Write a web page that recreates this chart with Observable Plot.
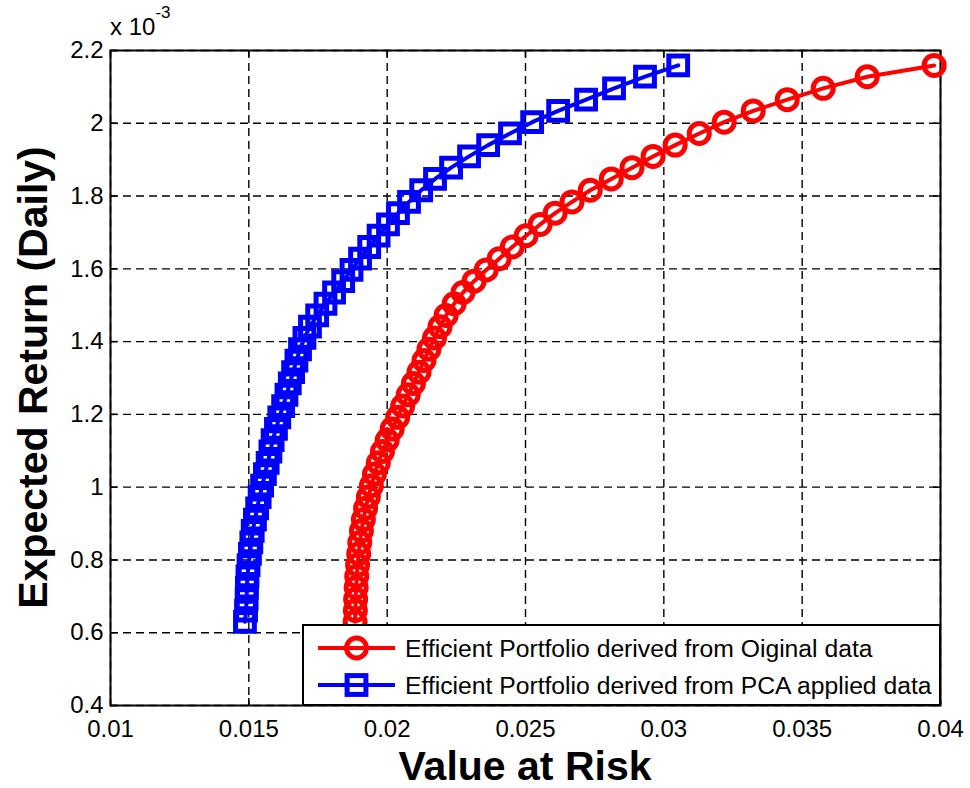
<!DOCTYPE html>
<html><head><meta charset="utf-8">
<script src="https://cdn.jsdelivr.net/npm/d3@7"></script>
<script src="https://cdn.jsdelivr.net/npm/@observablehq/plot@0.6"></script>
<style>body{margin:0;background:#fff}</style>
</head><body><div id="chart"></div>
<script>
// Tick values
const xTicks = [0.01, 0.015, 0.02, 0.025, 0.03, 0.035, 0.04];
const yTicks = [0.4, 0.6, 0.8, 1, 1.2, 1.4, 1.6, 1.8, 2, 2.2];

// Expected return (daily), in units of 1e-3
const returns = [0.630, 0.661, 0.692, 0.724, 0.755, 0.786, 0.817, 0.848, 0.880, 0.911,
  0.942, 0.973, 1.004, 1.036, 1.067, 1.098, 1.129, 1.160, 1.192, 1.223,
  1.254, 1.285, 1.316, 1.348, 1.379, 1.410, 1.441, 1.472, 1.504, 1.535,
  1.566, 1.597, 1.628, 1.660, 1.691, 1.722, 1.753, 1.784, 1.816, 1.847,
  1.878, 1.909, 1.940, 1.972, 2.003, 2.034, 2.065, 2.096, 2.128, 2.159];

// Value at Risk: original data
const varOriginal = [0.01884, 0.01885, 0.01886, 0.01888, 0.01890, 0.01893, 0.01897, 0.01901, 0.01907, 0.01914,
  0.01922, 0.01932, 0.01943, 0.01954, 0.01968, 0.01983, 0.02000, 0.02018, 0.02038, 0.02056,
  0.02076, 0.02095, 0.02115, 0.02133, 0.02151, 0.02171, 0.02191, 0.02213, 0.02242, 0.02274,
  0.02314, 0.02358, 0.02405, 0.02452, 0.02502, 0.02553, 0.02607, 0.02668, 0.02734, 0.02810,
  0.02885, 0.02961, 0.03041, 0.03128, 0.03218, 0.03323, 0.03446, 0.03576, 0.03735, 0.03977];

// Value at Risk: PCA applied data
const varPCA = [0.01486, 0.01490, 0.01492, 0.01493, 0.01495, 0.01499, 0.01504, 0.01509, 0.01514, 0.01522,
  0.01530, 0.01539, 0.01548, 0.01558, 0.01568, 0.01578, 0.01586, 0.01598, 0.01610, 0.01624,
  0.01636, 0.01648, 0.01660, 0.01672, 0.01685, 0.01701, 0.01721, 0.01747, 0.01777, 0.01808,
  0.01841, 0.01871, 0.01902, 0.01935, 0.01969, 0.02003, 0.02039, 0.02079, 0.02123, 0.02173,
  0.02231, 0.02296, 0.02365, 0.02444, 0.02524, 0.02618, 0.02719, 0.02820, 0.02932, 0.03052];

const seriesNames = ["Efficient Portfolio derived from Oiginal data", "Efficient Portfolio derived from PCA applied data"];
const xTitle = "Value at Risk";
const yTitle = "Expected Return (Daily)";

const rowsOrig = returns.map((r, i) => ({risk: varOriginal[i], ret: r}));
const rowsPCA = returns.map((r, i) => ({risk: varPCA[i], ret: r}));

const W = 970, H = 788, mL = 110, mR = 30, mT = 50, mB = 83;
const plotW = W - mL - mR, plotH = H - mT - mB;
const font = "'Liberation Sans', Arial, Helvetica, sans-serif";
const RED = "#ff0000", BLUE = "#0000ff";
const gridStyle = {stroke: "black", strokeOpacity: 1, strokeWidth: 1.4, strokeDasharray: "8,5"};
const tickStyle = {stroke: "black", strokeOpacity: 1, strokeWidth: 1.5};

const chart = Plot.plot({
  width: W, height: H,
  marginLeft: mL, marginRight: mR, marginTop: mT, marginBottom: mB,
  style: {fontFamily: font, fontSize: "24px", color: "black", background: "white", overflow: "visible"},
  x: {domain: [0.01, 0.04], label: null},
  y: {domain: [0.4, 2.2], label: null},
  marks: [
    Plot.gridX(xTicks, gridStyle),
    Plot.gridY(yTicks, gridStyle),
    Plot.ruleX(xTicks, {...tickStyle, insetTop: plotH - 7}),
    Plot.ruleX(xTicks, {...tickStyle, insetBottom: plotH - 7}),
    Plot.ruleY(yTicks, {...tickStyle, insetRight: plotW - 7}),
    Plot.ruleY(yTicks, {...tickStyle, insetLeft: plotW - 7}),
    Plot.frame({stroke: "black", strokeWidth: 2}),
    Plot.axisX(xTicks, {tickSize: 0, tickPadding: 14, label: null, tickFormat: d => String(d), fontSize: 24}),
    Plot.axisY(yTicks, {tickSize: 0, tickPadding: 7, label: null, tickFormat: d => String(d), fontSize: 24}),
    Plot.line(rowsOrig, {x: "risk", y: "ret", stroke: RED, strokeWidth: 4}),
    Plot.dot(rowsOrig, {x: "risk", y: "ret", r: 10, stroke: RED, strokeWidth: 5, fill: "none"}),
    Plot.line(rowsPCA, {x: "risk", y: "ret", stroke: BLUE, strokeWidth: 4}),
    Plot.dot(rowsPCA, {x: "risk", y: "ret", symbol: "square", r: 10.6, stroke: BLUE, strokeWidth: 5, fill: "none"})
  ]
});
document.getElementById("chart").appendChild(chart);

const svg = d3.select(chart);
// exponent label
const ex = svg.append("text").attr("x", mL).attr("y", 35).attr("text-anchor", "start")
  .attr("font-family", font).attr("font-size", 24).attr("fill", "black");
ex.append("tspan").text("x 10");
ex.append("tspan").attr("dy", -17).attr("font-size", 17).text("-3");

// axis titles
svg.append("text").attr("x", mL + plotW / 2).attr("y", 780)
  .attr("text-anchor", "middle").attr("font-family", font).attr("font-weight", "bold")
  .attr("font-size", 41).attr("fill", "black").text(xTitle);
svg.append("text").attr("transform", `translate(47,${mT + plotH / 2}) rotate(-90)`)
  .attr("text-anchor", "middle").attr("font-family", font).attr("font-weight", "bold")
  .attr("font-size", 41).attr("fill", "black").text(yTitle);

// legend
const LW = 637, LH = 80;
const lx = W - mR - LW, ly = H - mB - LH;
const lg = svg.append("g");
lg.append("rect").attr("x", lx).attr("y", ly).attr("width", LW).attr("height", LH)
  .attr("fill", "white").attr("stroke", "black").attr("stroke-width", 2);
const rowsY = [ly + 23, ly + 60];
const colors = [RED, BLUE];
seriesNames.forEach((name, i) => {
  const y = rowsY[i];
  lg.append("line").attr("x1", lx + 15).attr("x2", lx + 92).attr("y1", y).attr("y2", y)
    .attr("stroke", colors[i]).attr("stroke-width", 4);
  if (i === 0) {
    lg.append("circle").attr("cx", lx + 53.5).attr("cy", y).attr("r", 10)
      .attr("fill", "none").attr("stroke", colors[i]).attr("stroke-width", 5);
  } else {
    lg.append("rect").attr("x", lx + 53.5 - 9.4).attr("y", y - 9.4).attr("width", 18.8).attr("height", 18.8)
      .attr("fill", "none").attr("stroke", colors[i]).attr("stroke-width", 5);
  }
  lg.append("text").attr("x", lx + 102).attr("y", y).attr("dy", "0.35em").attr("text-anchor", "start")
    .attr("font-family", font).attr("font-size", 24.7).attr("fill", "black").text(name);
});
</script>
</body></html>
